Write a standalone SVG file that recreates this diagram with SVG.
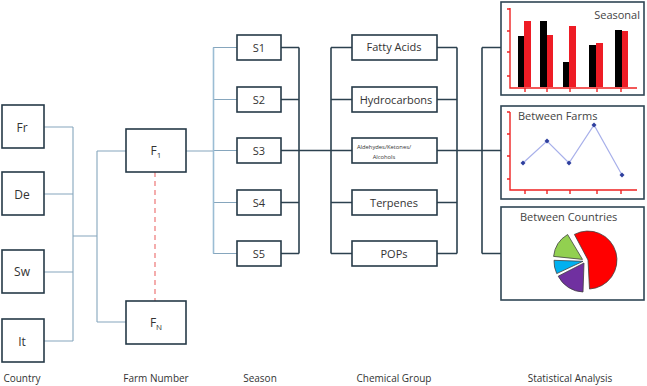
<svg xmlns="http://www.w3.org/2000/svg" width="647" height="386" viewBox="0 0 647 386">
<style>
.box{fill:#fff;stroke:#263a48;stroke-width:1.6}
.sbox{fill:#fff;stroke:#2f4554;stroke-width:1.6}
.lt{fill:none;stroke:#86a6bd;stroke-width:1.1}
.ltv{fill:none;stroke:#9bbdd4;stroke-width:1.6}
.dk{fill:none;stroke:#2c414f;stroke-width:1.6}
.t{font-family:"Open Sans","Noto Sans",sans-serif;fill:#333;text-anchor:middle}
.bt{font-size:12px}
.st{font-size:11px}
.lab{font-size:10px;fill:#333}
.ct{font-family:"Open Sans","Noto Sans",sans-serif;font-size:11px;fill:#444}
.ax{fill:none;stroke:#ee2222;stroke-width:1.4}
.blk{fill:#000}
.red{fill:#ee1c25}
.pie{stroke:#404040;stroke-width:0.8}
</style>
<g id="connectors">
  <path class="lt" d="M44,127H73M44,194H73M44,272H73M44,341H73M73,127V341M73,236H97M97,151V322M97,151H126M97,322H126"/>
  <path d="M155,172V301" fill="none" stroke="#f08a8a" stroke-width="1.4" stroke-dasharray="5,4"/>
  <path class="lt" d="M186,151H213M213,47.5H237M213,99.5H237M213,150.5H237M213,202.5H237M213,253.5H237"/>
  <path class="ltv" d="M213.5,47.5V253.5"/>
  <path class="dk" d="M281,47.5H299M281,99.5H299M281,202.5H299M281,253.5H299M299,47.5V253.5M281,150.5H352M331,47.5V253.5M331,47.5H352M331,99.5H352M331,202.5H352M331,253.5H352"/>
  <path class="dk" d="M437,47.5H457M437,99.5H457M437,202.5H457M437,253.5H457M457,47.5V253.5M437,150.5H501M482,47.5V253.5M482,47.5H501M482,253.5H501"/>
</g>
<g id="node-fr"><rect class="box" x="2" y="105" width="42" height="43"/><text class="t bt" x="22" y="131.5">Fr</text></g>
<g id="node-de"><rect class="box" x="2" y="172" width="42" height="43"/><text class="t bt" x="22" y="198.5">De</text></g>
<g id="node-sw"><rect class="box" x="2" y="250" width="42" height="43"/><text class="t bt" x="22" y="276">Sw</text></g>
<g id="node-it"><rect class="box" x="2" y="319" width="42" height="43"/><text class="t bt" x="22" y="345.5">It</text></g>
<g id="node-f1"><rect class="box" x="126" y="129" width="60" height="43"/><text class="t bt" x="156" y="155">F<tspan font-size="8" dy="3">1</tspan></text></g>
<g id="node-fn"><rect class="box" x="126" y="301" width="60" height="43"/><text class="t bt" x="156" y="327">F<tspan font-size="8" dy="3">N</tspan></text></g>
<g id="node-s1"><rect class="box" x="237" y="35" width="44" height="25"/><text class="t st" x="259" y="51.5">S1</text></g>
<g id="node-s2"><rect class="box" x="237" y="87" width="44" height="25"/><text class="t st" x="259" y="103.5">S2</text></g>
<g id="node-s3"><rect class="box" x="237" y="138" width="44" height="25"/><text class="t st" x="259" y="154.5">S3</text></g>
<g id="node-s4"><rect class="box" x="237" y="190" width="44" height="25"/><text class="t st" x="259" y="206.5">S4</text></g>
<g id="node-s5"><rect class="box" x="237" y="241" width="44" height="25"/><text class="t st" x="259" y="257.5">S5</text></g>
<g id="node-fatty"><rect class="box" x="352" y="35" width="85" height="25"/><text class="t st" x="394" y="51">Fatty Acids</text></g>
<g id="node-hydro"><rect class="box" x="352" y="87" width="85" height="25"/><text class="t st" x="396" y="103.5">Hydrocarbons</text></g>
<g id="node-ald"><rect class="box" x="352" y="138" width="85" height="25"/><text class="t" font-size="5.8" x="384" y="148.5">Aldehydes/Ketones/</text><text class="t" font-size="5.8" x="384" y="158.5">Alcohols</text></g>
<g id="node-terp"><rect class="box" x="352" y="190" width="85" height="25"/><text class="t st" x="394" y="206.5">Terpenes</text></g>
<g id="node-pops"><rect class="box" x="352" y="241" width="85" height="25"/><text class="t st" x="394" y="257.5">POPs</text></g>
<g id="node-seasonal">
  <rect class="sbox" x="501" y="2" width="143" height="93"/>
  <text class="ct" x="640" y="19" text-anchor="end">Seasonal</text>
  <path class="ax" d="M510,8V88H637M507,9H510M507,31H510M507,52H510M507,76H510M525,88V92M547,88V92M570,88V92M597,88V92M621,88V92"/>
  <rect class="blk" x="518" y="36" width="6" height="51"/><rect class="red" x="524" y="21" width="7" height="66"/>
  <rect class="blk" x="540" y="21" width="7" height="66"/><rect class="red" x="547" y="35" width="6" height="52"/>
  <rect class="blk" x="563" y="62" width="6" height="25"/><rect class="red" x="569" y="26" width="7" height="61"/>
  <rect class="blk" x="589" y="45" width="7" height="42"/><rect class="red" x="596" y="43" width="7" height="44"/>
  <rect class="blk" x="615" y="30" width="7" height="57"/><rect class="red" x="622" y="31" width="6" height="56"/>
</g>
<g id="node-farms">
  <rect class="sbox" x="501" y="106" width="143" height="93"/>
  <text class="ct" x="518" y="120">Between Farms</text>
  <path class="ax" d="M510,112V190H637M507,112H510M507,134H510M507,156H510M507,179H510M525,190V194M547,190V194M570,190V194M597,190V194M621,190V194"/>
  <polyline points="523,163 547,141 569,163 594,125 622,175" fill="none" stroke="#a8b0ea" stroke-width="1.2"/>
  <g fill="#2e3f9e">
    <path d="M523,160.5l2.5,2.5l-2.5,2.5l-2.5,-2.5z"/>
    <path d="M547,138.5l2.5,2.5l-2.5,2.5l-2.5,-2.5z"/>
    <path d="M569,160.5l2.5,2.5l-2.5,2.5l-2.5,-2.5z"/>
    <path d="M594,122.5l2.5,2.5l-2.5,2.5l-2.5,-2.5z"/>
    <path d="M622,172.5l2.5,2.5l-2.5,2.5l-2.5,-2.5z"/>
  </g>
</g>
<g id="node-countries">
  <rect class="sbox" x="501" y="207" width="143" height="93"/>
  <text class="ct" x="520" y="221">Between Countries</text>
  <path class="pie" fill="#ff0000" d="M588,260L574.4,234.4A29,29 0 1 1 589.5,289Z"/>
  <path class="pie" fill="#7030a0" d="M584,263L583,292A29,29 0 0 1 558.2,276.2Z"/>
  <path class="pie" fill="#00b0f0" d="M583,261.3L556.7,273.6A29,29 0 0 1 554,260.3Z"/>
  <path class="pie" fill="#92d050" d="M582.5,259.4L553.6,256.4A29,29 0 0 1 567.6,234.5Z"/>
</g>
<g id="labels">
  <text class="t lab" x="22" y="382">Country</text>
  <text class="t lab" x="156" y="382">Farm Number</text>
  <text class="t lab" x="260" y="382">Season</text>
  <text class="t lab" x="394" y="382">Chemical Group</text>
  <text class="t lab" x="570" y="382">Statistical Analysis</text>
</g>
</svg>
